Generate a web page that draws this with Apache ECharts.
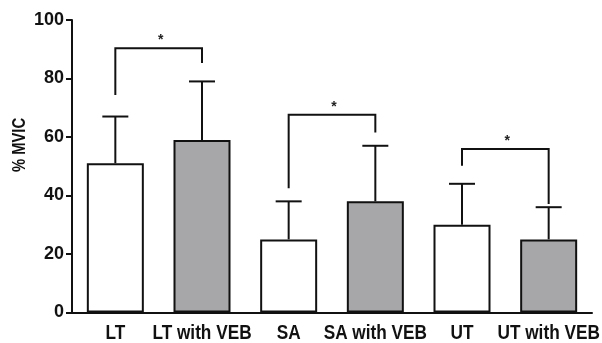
<!DOCTYPE html>
<html>
<head>
<meta charset="utf-8">
<script src="https://cdn.jsdelivr.net/npm/echarts@6/dist/echarts.min.js"></script>
<style>html,body{margin:0;padding:0;background:#fff}#c{width:602px;height:343px}</style>
</head>
<body>
<div id="c"></div>
<script>
const categories = ['LT', 'LT with VEB', 'SA', 'SA with VEB', 'UT', 'UT with VEB'];
const meanValues = [51, 59, 25, 38, 30, 25];
const errorUpper = [67, 79, 38, 57, 44, 36];
const yTicks = [0, 20, 40, 60, 80, 100];
// significance brackets: [leftIndex, rightIndex, topValue, leftLegEnd, rightLegEnd]
const brackets = [
  [0, 1, 90.3, 74.4, 85.3],
  [2, 3, 67.6, 42.5, 61.5],
  [4, 5, 55.9, 50.2, 37.1]
];
const bracketLabel = '*';

const fillColors = ['#ffffff', '#a7a7a9'];
const sans = '"Liberation Sans", Arial, sans-serif';
const squeeze = 0.82;

const chart = echarts.init(document.getElementById('c'), null, {renderer: 'canvas'});
chart.setOption({
  backgroundColor: '#ffffff',
  animation: false,
  grid: {left: 72, right: 10, top: 20, bottom: 30.5},
  xAxis: {
    type: 'category',
    data: categories,
    axisLine: {lineStyle: {color: '#111', width: 2}},
    axisTick: {alignWithLabel: true, length: 5, lineStyle: {color: '#111', width: 2}},
    axisLabel: {show: false, interval: 0}
  },
  yAxis: {
    type: 'value',
    min: 0, max: 100, interval: 20,
    axisLine: {show: true, lineStyle: {color: '#111', width: 2}},
    axisTick: {show: true, length: 6, lineStyle: {color: '#111', width: 2}},
    axisLabel: {color: '#111', fontFamily: sans, fontWeight: 'bold', fontSize: 18, margin: 8,
      formatter: v => yTicks.includes(v) ? String(v) : ''},
    splitLine: {show: false}
  },
  graphic: [{
    type: 'text', x: 20, y: 145, rotation: Math.PI / 2, scaleX: squeeze,
    style: {text: '% MVIC', fill: '#111', font: 'bold 18px ' + sans, align: 'center', verticalAlign: 'middle'}
  }],
  series: [
    {
      type: 'custom',
      z: 1,
      data: categories.map((c, i) => [i, meanValues[i], errorUpper[i]]),
      encode: {x: 0, y: [1, 2]},
      renderItem: (params, api) => {
        const base = api.coord([api.value(0), api.value(1)]);
        const top = api.coord([api.value(0), api.value(2)]);
        const st = {stroke: '#111', lineWidth: 2};
        return {type: 'group', children: [
          {type: 'line', shape: {x1: base[0], y1: base[1], x2: base[0], y2: top[1]}, style: st},
          {type: 'line', shape: {x1: base[0] - 13, y1: top[1], x2: base[0] + 13, y2: top[1]}, style: st}
        ]};
      }
    },
    {
      type: 'bar',
      z: 2,
      barWidth: 57,
      data: meanValues.map((v, i) => ({value: v, itemStyle: {color: fillColors[i % 2]}})),
      itemStyle: {borderColor: '#111', borderWidth: 2}
    },
    {
      type: 'custom',
      z: 3,
      data: brackets,
      encode: {x: [0, 1], y: [2, 3, 4]},
      renderItem: (params, api) => {
        const l = api.coord([api.value(0), api.value(2)]);
        const r = api.coord([api.value(1), api.value(2)]);
        const lb = api.coord([api.value(0), api.value(3)]);
        const rb = api.coord([api.value(1), api.value(4)]);
        const st = {stroke: '#111', lineWidth: 2, fill: null};
        return {type: 'group', children: [
          {type: 'polyline', shape: {points: [[lb[0], lb[1]], [l[0], l[1]], [r[0], r[1]], [rb[0], rb[1]]]}, style: st},
          {type: 'text', x: (l[0] + r[0]) / 2 + 2, y: l[1] - 8,
            style: {text: bracketLabel, fill: '#222', font: 'bold 14px ' + sans, align: 'center', verticalAlign: 'middle'}}
        ]};
      }
    },
    {
      // category labels (horizontally condensed like the reference)
      type: 'custom',
      z: 4,
      clip: false,
      data: categories.map((c, i) => [i, 0]),
      encode: {x: 0, y: 1},
      renderItem: (params, api) => {
        const p = api.coord([api.value(0), 0]);
        return {type: 'text', x: p[0], y: p[1] + 21, scaleX: squeeze,
          style: {text: categories[params.dataIndex], fill: '#111', font: 'bold 21px ' + sans,
            align: 'center', verticalAlign: 'middle'}};
      }
    }
  ]
});
</script>
</body>
</html>
